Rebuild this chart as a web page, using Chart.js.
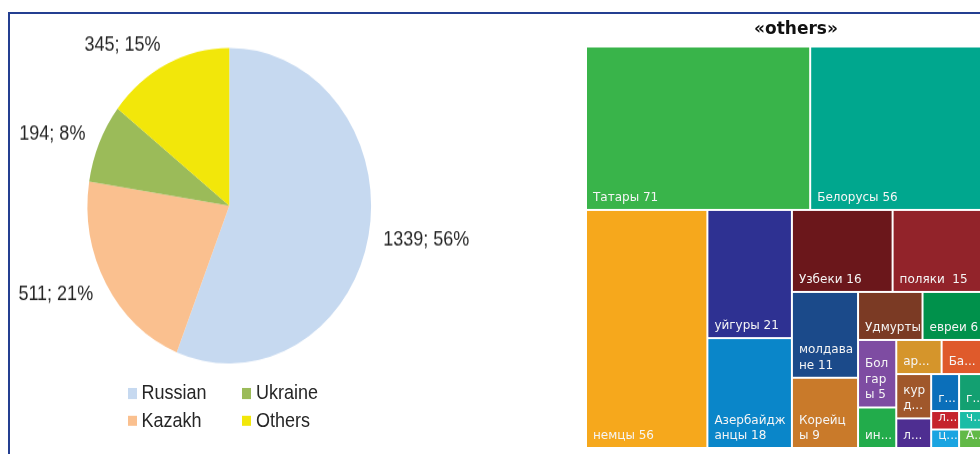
<!DOCTYPE html>
<html>
<head>
<meta charset="utf-8">
<script src="https://cdn.jsdelivr.net/npm/chart.js@4.4.1/dist/chart.umd.min.js"></script>
<style>
  html, body { margin: 0; padding: 0; width: 980px; height: 454px; overflow: hidden; background: #fff; }
  #frame { position: absolute; left: 8px; top: 12px; width: 1000px; height: 470px;
           border-left: 2px solid #243f91; border-top: 2px solid #243f91; }
  #pieBox { position: absolute; left: 10px; top: 14px; width: 560px; height: 400px;
            transform: scaleY(1.113); transform-origin: 0 0; }
  #pie { position: absolute; left: 0; top: 0; }
  #pieLegend { position: absolute; left: 118px; top: 328.5px; display: grid;
               grid-template-rows: 24.6px 24.6px; grid-auto-flow: column; grid-auto-columns: 114.4px;
               font: 18px "Liberation Sans", Arial, sans-serif; color: #262626; }
  #pieLegend .item { display: flex; align-items: center; white-space: nowrap; }
  #pieLegend i { display: inline-block; width: 9px; height: 9.5px; margin-right: 4.5px; }
  #tree { position: absolute; left: 576px; top: 14px; }
</style>
</head>
<body>
<div id="frame"></div>
<div id="pieBox">
  <canvas id="pie" width="560" height="330"></canvas>
  <div id="pieLegend"></div>
</div>
<canvas id="tree" width="440" height="440"></canvas>
<script>
// main groups
const groups = ['Russian', 'Kazakh', 'Ukraine', 'Others'];
const groupCounts = [1339, 511, 194, 345];
const groupShares = [56, 21, 8, 15];
const groupColors = ['#c6d9f0', '#fac08f', '#9bbb59', '#f2e70a'];

// breakdown of "others", sorted by size
const nations = ['Татары', 'Белорусы', 'немцы', 'уйгуры', 'Азербайджанцы', 'Узбеки', 'поляки',
  'молдаване', 'Корейцы', 'Удмурты', 'евреи', 'Болгары', 'ингуши', 'армяне', 'Башкиры', 'курды',
  'лезгины', 'греки', 'грузины', 'литовцы', 'цыгане', 'чеченцы', 'Аварцы'];
const nationCounts = [71, 56, 56, 21, 18, 16, 15, 11, 9, 6, 6, 5, 3, 3, 3, 3, 2, 2, 2, 1, 1, 1, 1];
// text shown inside each tile ({v} = count)
const nationTexts = ['Татары {v}', 'Белорусы {v}', 'немцы {v}', 'уйгуры {v}', 'Азербайдж\nанцы {v}',
  'Узбеки {v}', 'поляки  {v}', 'молдава\nне {v}', 'Корейц\nы {v}', 'Удмурты', 'евреи {v}',
  'Бол\nгар\nы {v}', 'ин...', 'ар...', 'Ба...', 'кур\nд...', 'л...', 'г...', 'г...', 'л...', 'ц...', 'ч...', 'А...'];
const nationColors = ['#39b44a', '#00a78e', '#f6a81c', '#2e3192', '#0a86c9', '#6b171b', '#92232a',
  '#1b4a8a', '#c97a2a', '#7b3a24', '#00914b', '#7e4ca2', '#22ac4b', '#d5952b', '#df5a2b', '#a0572b',
  '#4e2e91', '#0b6fba', '#13a071', '#c5232b', '#1aa4e1', '#1bbca6', '#62b947'];

const TREE_W = 401;
const TREE_H = 401.5;

// outside labels "count; share%"
const pieLabels = {
  id: 'pieLabels',
  afterDatasetsDraw(chart) {
    const ctx = chart.ctx;
    const arcs = chart.getDatasetMeta(0).data;
    ctx.save();
    ctx.font = '18px "Liberation Sans", Arial, sans-serif';
    ctx.fillStyle = '#262626';
    ctx.textBaseline = 'middle';
    arcs.forEach((arc, i) => {
      const p = arc.getProps(['x', 'y', 'startAngle', 'endAngle', 'outerRadius'], true);
      const mid = (p.startAngle + p.endAngle) / 2;
      const dx = Math.cos(mid), dy = Math.sin(mid);
      const r = p.outerRadius + 15;
      ctx.textAlign = dx >= 0 ? 'left' : 'right';
      ctx.fillText(`${groupCounts[i]}; ${groupShares[i]}%`, p.x + dx * r, p.y + dy * r + dy * 4);
    });
    ctx.restore();
  }
};

const pieChart = new Chart(document.getElementById('pie'), {
  type: 'pie',
  data: {
    labels: groups,
    datasets: [{ data: groupCounts, backgroundColor: groupColors, borderWidth: 0, hoverOffset: 0 }]
  },
  options: {
    responsive: false,
    animation: false,
    events: [],
    layout: { padding: { left: 77.5, right: 198.9, top: 30.4, bottom: 16 } },
    plugins: { legend: { display: false }, tooltip: { enabled: false } }
  },
  plugins: [pieLabels]
});

// two-column legend under the pie
const legendEl = document.getElementById('pieLegend');
pieChart.data.labels.forEach((name, i) => {
  const item = document.createElement('div');
  item.className = 'item';
  const sw = document.createElement('i');
  sw.style.background = pieChart.data.datasets[0].backgroundColor[i];
  item.appendChild(sw);
  item.appendChild(document.createTextNode(name));
  legendEl.appendChild(item);
});

// squarified layout in value space
function worst(row, side) {
  const s = row.reduce((a, b) => a + b, 0);
  const mx = Math.max(...row), mn = Math.min(...row);
  return Math.max(side * side * mx / (s * s), (s * s) / (side * side * mn));
}

function squarify(values, w, h) {
  const total = values.reduce((a, b) => a + b, 0);
  const areas = values.map(v => v * w * h / total);
  const out = [];
  let x = 0, y = 0, rw = w, rh = h, i = 0;
  while (i < areas.length) {
    const side = Math.min(rw, rh);
    const row = [areas[i]];
    let j = i + 1;
    while (j < areas.length && worst(row.concat(areas[j]), side) <= worst(row, side)) {
      row.push(areas[j]);
      j++;
    }
    const thick = row.reduce((a, b) => a + b, 0) / side;
    if (rw <= rh) {
      let cx = x;
      row.forEach(a => { out.push({ x: cx, y: y, w: a / thick, h: thick }); cx += a / thick; });
      y += thick; rh -= thick;
    } else {
      let cy = y;
      row.forEach(a => { out.push({ x: x, y: cy, w: thick, h: a / thick }); cy += a / thick; });
      x += thick; rw -= thick;
    }
    i = j;
  }
  return out;
}

const treemapPlugin = {
  id: 'treemap',
  afterDatasetsDraw(chart) {
    const { ctx, scales: { x, y } } = chart;
    const cells = squarify(nationCounts, TREE_W, TREE_H);
    ctx.save();
    cells.forEach((c, i) => {
      const left = x.getPixelForValue(c.x), right = x.getPixelForValue(c.x + c.w);
      const top = y.getPixelForValue(c.y), bottom = y.getPixelForValue(c.y + c.h);
      ctx.fillStyle = nationColors[i];
      ctx.fillRect(left + 1, top + 1, right - left - 2, bottom - top - 2);

      const lines = nationTexts[i].replace('{v}', nationCounts[i]).split('\n');
      ctx.fillStyle = '#f5f5f5';
      ctx.font = '12px "DejaVu Sans", sans-serif';
      ctx.textAlign = 'left';
      ctx.textBaseline = 'alphabetic';
      lines.forEach((ln, k) => {
        ctx.fillText(ln, left + 7, bottom - 9 - (lines.length - 1 - k) * 15.5);
      });
    });
    ctx.restore();
  }
};

new Chart(document.getElementById('tree'), {
  type: 'scatter',
  data: { datasets: [{ data: [] }] },
  options: {
    responsive: false,
    animation: false,
    events: [],
    layout: { padding: { left: 10, right: 10, top: 0, bottom: 6 } },
    scales: {
      x: { type: 'linear', min: 0, max: 420, display: false },
      y: { type: 'linear', min: 0, max: TREE_H, reverse: true, display: false }
    },
    plugins: {
      legend: { display: false },
      tooltip: { enabled: false },
      title: {
        display: true,
        text: '«others»',
        color: '#111',
        font: { family: 'DejaVu Sans', size: 17, weight: 'bold' },
        padding: { top: 5.5, bottom: 6.6 }
      }
    }
  },
  plugins: [treemapPlugin]
});
</script>
</body>
</html>
